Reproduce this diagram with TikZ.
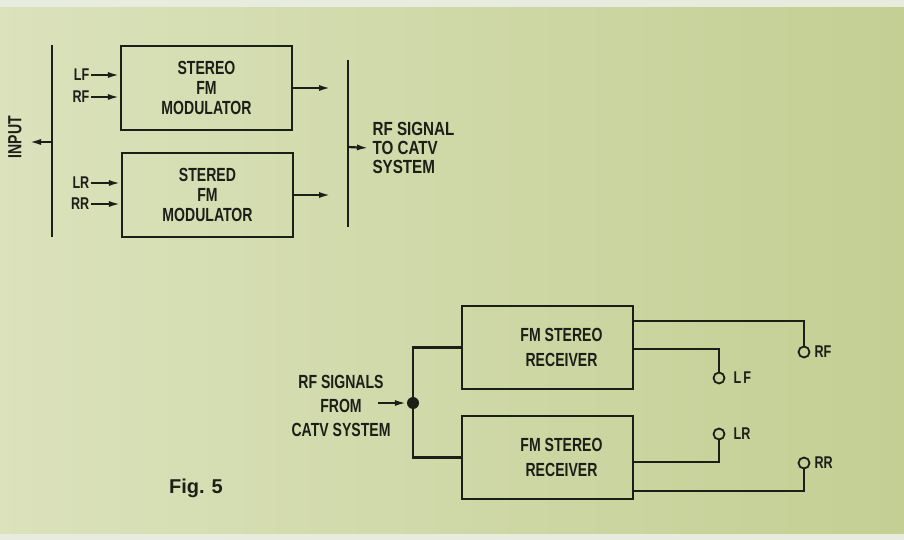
\documentclass[tikz,border=0pt]{standalone}
\usepackage{fontspec}
\setmainfont{Liberation Sans}
\newfontfamily\narrowfont{Liberation Sans}[FakeStretch=0.74]
\newfontfamily\widerfont{Liberation Sans}[FakeStretch=0.8]
\usetikzlibrary{positioning,arrows.meta,calc}
\definecolor{paperlt}{HTML}{DBE2BC}
\definecolor{paperdk}{HTML}{C3CF93}
\definecolor{paperedge}{HTML}{E8ECDF}
\definecolor{inkblk}{HTML}{1C1F18}

\begin{document}
\begin{tikzpicture}[x=1pt,y=-1pt,
    wire/.style={draw=inkblk, line width=2.2pt},
    sig/.style={wire, -{Latex[length=12pt,width=6pt]}},
    blk/.style={wire, rectangle, minimum width=171pt, minimum height=84pt, inner sep=0pt},
    btxt/.style={text=inkblk, align=center, font=\narrowfont\bfseries\fontsize{19}{20}\selectfont},
    lbl/.style={text=inkblk, inner sep=1.5pt, font=\narrowfont\bfseries\fontsize{17}{18}\selectfont},
    jack/.style={circle, draw=inkblk, line width=1.8pt, minimum size=11pt, inner sep=0pt},
    jlbl/.style={lbl, inner sep=0pt}]
  \useasboundingbox (0,0) rectangle (904,540);
  \shade[left color=paperlt, right color=paperdk] (0,0) rectangle (904,540);
  \fill[paperedge] (0,0) rectangle (904,7);
  \fill[paperedge] (0,534) rectangle (904,540);

  % modulators
  \node[blk] (m1) at (206.5,88) {};
  \node[btxt] (m1t) at (m1.center) {STEREO\\FM\\MODULATOR};
  \node[blk] (m2) at (207.5,195) {};
  \node[btxt] (m2t) at (m2.center) {STERED\\FM\\MODULATOR};

  \coordinate (inTop) at (52,45);
  \coordinate (inBot) at (52,237);
  \coordinate (inTap) at (52,142);
  \coordinate (inEnd) at (29,142);
  \draw[wire] (inTop) -- (inBot);
  \draw[sig] (inTap) -- (inEnd);
  \node[lbl, rotate=90, font=\narrowfont\bfseries\fontsize{19}{19}\selectfont] (inp) at (15,137) {INPUT};

  \foreach \nm/\lab/\yy/\bx in {lf/LF/75/m1, rf/RF/97/m1, lr/LR/183/m2, rr/RR/204/m2} {
    \node[lbl, anchor=east] (\nm) at (91,\yy) {\lab};
    \draw[sig] (\nm.east) -- (\nm.east -| \bx.west);
  }

  \coordinate (busIn) at (331,0);
  \draw[sig] (m1.east) -- (m1.east -| busIn);
  \draw[sig] (m2.east) -- (m2.east -| busIn);
  \coordinate (busTop) at (348,60);
  \coordinate (busBot) at (348,227);
  \coordinate (busTap) at (348,147);
  \draw[wire] (busTop) -- (busBot);
  \node[btxt, align=left, anchor=west, font=\widerfont\bfseries\fontsize{19}{19}\selectfont] (catv) at (369,148) {RF SIGNAL\\TO CATV\\SYSTEM};
  \draw[sig] (busTap) -- (catv.west);

  % receivers
  \node[blk, minimum height=83pt] (rx1) at (547.5,347.5) {};
  \node[btxt, font=\narrowfont\bfseries\fontsize{19}{25}\selectfont] (rx1t) at ([xshift=14pt]rx1.center) {FM STEREO\\RECEIVER};
  \node[blk, minimum height=83pt] (rx2) at (547.5,457.5) {};
  \node[btxt, font=\narrowfont\bfseries\fontsize{19}{25}\selectfont] (rx2t) at ([xshift=14pt]rx2.center) {FM STEREO\\RECEIVER};

  \node[circle, fill=inkblk, minimum size=12pt, inner sep=0pt] (tap) at (413,403) {};
  \draw[wire] (rx1.west) -| (tap.center) |- (rx2.west);
  \node[btxt, font=\narrowfont\bfseries\fontsize{19}{24}\selectfont] (feedt) at (341,406) {RF SIGNALS\\FROM\\CATV SYSTEM};
  \coordinate (feed) at (378,403);
  \draw[sig] (feed) -- (tap.west);

  \node[jack] (jrf) at (804,352) {};
  \node[jack] (jlf) at (719,378) {};
  \node[jack] (jlr) at (719,434) {};
  \node[jack] (jrr) at (804,463) {};
  \node[jlbl, right=4pt of jrf] (lrf) {RF};
  \node[jlbl, right=8pt of jlf] (llf) {L\kern2pt F};
  \node[jlbl, right=8pt of jlr] (llr) {LR};
  \node[jlbl, right=4pt of jrr] (lrr) {RR};
  \draw[wire] ($(rx1.north east)!0.19!(rx1.south east)$) -| (jrf.north);
  \draw[wire] ($(rx1.north east)!0.52!(rx1.south east)$) -| (jlf.north);
  \draw[wire] ($(rx2.north east)!0.55!(rx2.south east)$) -| (jlr.south);
  \draw[wire] ($(rx2.north east)!0.89!(rx2.south east)$) -| (jrr.south);

  \node[text=inkblk, font=\bfseries\fontsize{20}{20}\selectfont] (fig) at (196,488) {Fig.\hspace{7pt}5};
\end{tikzpicture}
\end{document}
